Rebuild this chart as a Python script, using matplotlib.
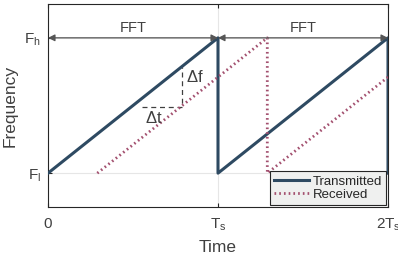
import numpy as np
import matplotlib
matplotlib.use('Agg')
import matplotlib.pyplot as plt

plt.rcParams['font.family'] = ['Liberation Sans', 'DejaVu Sans']
plt.rcParams['mathtext.default'] = 'regular'

# time in units of Ts, frequency normalised: Fl = 0, Fh = 1
tx_t = [0, 1, 1, 2, 2]
tx_f = [0, 1, 0, 1, 0]
rx_t = [0.29, 1.29, 1.29, 2.0]
rx_f = [0, 1, 0, 0.71]
xtick_pos = [0, 1, 2]
xtick_lab = ['0', '$T_s$', '$2T_s$']
ytick_pos = [0, 1]
ytick_lab = ['$F_l$', '$F_h$']
fft_spans = [(0, 1), (1, 2)]

txt = '#404040'
fig = plt.figure(figsize=(3.98, 2.63), dpi=100)
ax = fig.add_axes([48/398, 56/263, 340/398, 203/263])

ax.plot(tx_t, tx_f, color='#2e4a62', lw=2.2, label='Transmitted', zorder=3)
ax.plot(rx_t, rx_f, color='#a3506f', lw=2, ls=(0, (0.6, 1.1)), label='Received', zorder=3)

# delta t / delta f construction
ax.plot([0.553, 0.788, 0.788], [0.49, 0.49, 0.785], color='#404040', lw=0.9, ls=(0, (4, 3)), zorder=2)
ax.text(0.62, 0.47, r'$\Delta$t', ha='center', va='top', fontsize=12, color=txt)
ax.text(0.81, 0.71, r'$\Delta$f', ha='left', va='center', fontsize=12, color=txt)

for a, b in fft_spans:
    ax.annotate('', xy=(a, 1), xytext=(b, 1),
                arrowprops=dict(arrowstyle='<|-|>', color='#555555', lw=0.9,
                                shrinkA=0, shrinkB=0, mutation_scale=10))
    ax.text((a + b) / 2, 1.02, 'FFT', ha='center', va='bottom', fontsize=10.5, color=txt)

ax.set_xlim(0, 2)
ax.set_ylim(-0.25, 1.25)
ax.set_xticks(xtick_pos)
ax.set_xticklabels(xtick_lab)
ax.set_yticks(ytick_pos)
ax.set_yticklabels(ytick_lab)
ax.grid(True, color='#e6e6e6', lw=0.8)
ax.set_axisbelow(True)
ax.tick_params(direction='in', length=3, labelsize=11, colors='#262626', labelcolor=txt,
               top=True, right=True)
ax.tick_params(axis='x', pad=7)
ax.tick_params(axis='y', pad=5)
for s in ax.spines.values():
    s.set_color('#262626')
    s.set_linewidth(0.8)
ax.set_xlabel('Time', fontsize=12.5, color=txt, labelpad=5)
ax.set_ylabel('Frequency', fontsize=12.5, color=txt, labelpad=5)

leg = ax.legend(loc='lower right', fontsize=9.5, frameon=True, fancybox=False,
                borderpad=0.3, handlelength=2.6, handletextpad=0.3, labelspacing=0.1,
                borderaxespad=0.15)
leg.get_frame().set_facecolor('#eff0ef')
leg.get_frame().set_edgecolor('#262626')
leg.get_frame().set_linewidth(0.8)
leg.get_frame().set_alpha(1)
for t in leg.get_texts():
    t.set_color('#262626')

fig.savefig('out.png', dpi=100)
